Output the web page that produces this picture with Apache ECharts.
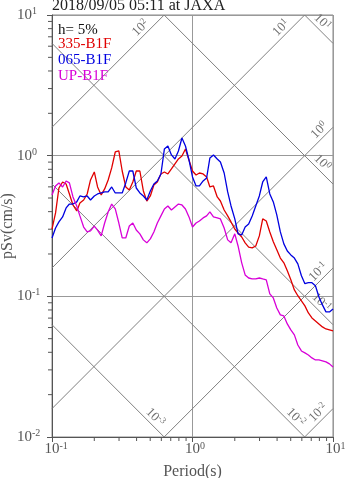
<!DOCTYPE html>
<html><head><meta charset="utf-8">
<script src="https://cdn.jsdelivr.net/npm/echarts@6/dist/echarts.min.js"></script>
<style>html,body{margin:0;padding:0;background:#fff}#c{width:347px;height:478px}</style>
</head><body><div id="c"></div>
<script>
// Periods (s)
const periods = [0.1,0.106,0.112,0.119,0.126,0.133,0.141,0.150,0.158,0.168,0.178,0.188,0.2,0.211,0.224,0.237,0.251,0.266,0.282,0.299,0.316,0.335,0.355,0.376,0.398,0.422,0.447,0.473,0.501,0.531,0.562,0.596,0.631,0.668,0.708,0.750,0.794,0.841,0.891,0.944,1.0,1.06,1.12,1.19,1.26,1.33,1.41,1.50,1.58,1.68,1.78,1.88,2.0,2.11,2.24,2.37,2.51,2.66,2.82,2.99,3.16,3.35,3.55,3.76,3.98,4.22,4.47,4.73,5.01,5.31,5.62,5.96,6.31,6.68,7.08,7.50,7.94,8.41,8.91,9.44,10.0];
// pSv (cm/s)
const sv335 = [0.301,0.392,0.589,0.650,0.629,0.534,0.446,0.405,0.461,0.484,0.534,0.672,0.766,0.599,0.526,0.580,0.672,0.818,1.062,1.080,0.778,0.599,0.571,0.650,0.778,0.778,0.561,0.476,0.517,0.619,0.650,0.741,0.766,0.741,0.804,0.873,0.947,0.995,1.116,0.932,0.778,0.729,0.753,0.741,0.706,0.599,0.609,0.509,0.476,0.411,0.373,0.338,0.301,0.282,0.264,0.240,0.224,0.221,0.228,0.269,0.355,0.343,0.287,0.244,0.214,0.187,0.173,0.152,0.131,0.111,0.101,0.0928,0.0855,0.0762,0.0702,0.0669,0.0637,0.0606,0.0586,0.0577,0.0568];
const sv065 = [0.260,0.306,0.338,0.367,0.425,0.453,0.453,0.469,0.517,0.509,0.517,0.484,0.517,0.534,0.543,0.552,0.552,0.599,0.543,0.543,0.543,0.640,0.778,0.778,0.589,0.543,0.517,0.484,0.561,0.629,0.661,0.741,1.116,1.172,1.012,0.947,1.080,1.336,1.172,0.932,0.706,0.609,0.609,0.661,0.694,0.963,1.012,0.947,0.902,0.753,0.552,0.439,0.355,0.278,0.273,0.311,0.327,0.373,0.439,0.517,0.650,0.706,0.534,0.469,0.379,0.287,0.236,0.210,0.197,0.187,0.170,0.140,0.123,0.125,0.125,0.119,0.0990,0.0869,0.0775,0.0775,0.0813];
const svUP = [0.526,0.609,0.640,0.599,0.661,0.640,0.509,0.439,0.373,0.311,0.287,0.292,0.316,0.296,0.269,0.332,0.398,0.453,0.418,0.332,0.260,0.260,0.316,0.332,0.296,0.278,0.252,0.240,0.256,0.287,0.332,0.373,0.418,0.439,0.411,0.432,0.453,0.446,0.418,0.367,0.311,0.332,0.343,0.361,0.373,0.398,0.367,0.361,0.355,0.306,0.252,0.240,0.278,0.228,0.173,0.142,0.135,0.133,0.133,0.135,0.133,0.131,0.104,0.0974,0.0827,0.0738,0.0726,0.0637,0.0577,0.0532,0.0451,0.0409,0.0396,0.0383,0.0365,0.0353,0.0353,0.0348,0.0342,0.0331,0.0315];
const seriesNames = ['335-B1F','065-B1F','UP-B1F'];
const seriesColors = ['#e00000','#0000e0','#d800d8'];
// Tripartite guide lines
const dispLines = [0.001,0.01,0.1,1,10];   // displacement (cm)
const accLines = [0.01,0.1,1,10,100];      // acceleration (cm/s^2)
const minorMult = [2,3,4,5,6,7,8,9];
const xDecades = [0.1,1];
const yDecades = [0.01,0.1,1];
const titleText = '2018/09/05 05:11 at JAXA';
const dampText = 'h= 5%';

const FF = '"Liberation Serif","Times New Roman",serif';
const TP = 2*Math.PI;
const Xmin=0.1, Xmax=10, Ymin=0.01, Ymax=10;

function expOf(v){return Math.round(Math.log10(v));}

const guideSeries = [];
dispLines.forEach(D=>{
  const t1 = Math.max(Xmin, TP*D/Ymax), t2 = Math.min(Xmax, TP*D/Ymin);
  guideSeries.push({type:'line', silent:true, symbol:'none', data:[[t1,TP*D/t1],[t2,TP*D/t2]],
    lineStyle:{color:'#808080', width:1}, z:1, animation:false});
});
accLines.forEach(A=>{
  const t1 = Math.max(Xmin, TP*Ymin/A), t2 = Math.min(Xmax, TP*Ymax/A);
  guideSeries.push({type:'line', silent:true, symbol:'none', data:[[t1,A*t1/TP],[t2,A*t2/TP]],
    lineStyle:{color:'#808080', width:1}, z:1, animation:false});
});
const labelData = [];
accLines.forEach(A=>{ const t=Math.min(Xmax, TP*Ymax/A); labelData.push([t, A*t/TP, expOf(A), 0]); });
dispLines.forEach(D=>{ const t=Math.min(Xmax, TP*D/Ymin); labelData.push([t, TP*D/t, expOf(D), 1]); });

const supRich = {
  b:{fontSize:13, fontFamily:FF, fill:'#707070', lineHeight:15},
  s:{fontSize:9, fontFamily:FF, fill:'#707070', verticalAlign:'top', lineHeight:10}
};
function diagLabel(params, api){
  const p = api.coord([api.value(0), api.value(1)]);
  const e = api.value(2), kind = api.value(3);
  const cs = params.coordSys, s = Math.SQRT1_2;
  let ax, ay, rot;
  if (kind === 0){
    const L = (p[1] <= cs.y + 1) ? 17 : 3;
    ax = p[0]-L*s; ay = p[1]+L*s; rot = Math.PI/4;
  } else {
    const L = (p[0] >= cs.x + cs.width - 1) ? 14 : 10;
    ax = p[0]-L*s; ay = p[1]-L*s; rot = -Math.PI/4;
  }
  return {type:'text', x:ax, y:ay, rotation:rot,
    style:{text:'{b|10}{s|'+e+'}', rich:supRich, align:'right', verticalAlign:'bottom', fill:'#707070'}};
}

const yMinor = []; yDecades.forEach(d=>minorMult.forEach(m=>yMinor.push([Xmin, d*m])));
const xMinor = []; xDecades.forEach(d=>minorMult.forEach(m=>xMinor.push([d*m, Ymin])));

function minorTick(dir){
  return function(params, api){
    const p = api.coord([api.value(0), api.value(1)]);
    const shape = dir==='y' ? {x1:p[0]-4, y1:p[1], x2:p[0], y2:p[1]} : {x1:p[0], y1:p[1], x2:p[0], y2:p[1]+4};
    return {type:'line', shape, style:{stroke:'#555', lineWidth:1}};
  };
}

const axisRich = {
  b:{fontSize:15, fontFamily:FF, color:'#555', lineHeight:17},
  s:{fontSize:10, fontFamily:FF, color:'#555', verticalAlign:'top', lineHeight:11},
  h:{fontSize:10, fontFamily:FF, color:'rgba(0,0,0,0)', verticalAlign:'top', lineHeight:11}
};

const chart = echarts.init(document.getElementById('c'), null, {renderer:'canvas'});
chart.setOption({
  animation:false,
  backgroundColor:'#fff',
  title:{text:titleText, left:52, top:-2, padding:0, textStyle:{fontFamily:FF, fontSize:16, fontWeight:'normal', color:'#222'}},
  legend:{orient:'vertical', left:53, top:37, icon:'none', itemWidth:0, itemHeight:14, itemGap:1, padding:0,
    selectedMode:false,
    data:seriesNames.map((n,i)=>({name:n, textStyle:{color:seriesColors[i]}})),
    textStyle:{fontFamily:FF, fontSize:15}},
  graphic:[{type:'text', left:58, top:23, style:{text:dampText, font:'15px '+FF, fill:'#111'}}],
  grid:{left:52, right:14, top:15, bottom:41, show:true, borderColor:'#888', borderWidth:1, outerBoundsMode:'none', containLabel:false},
  xAxis:{type:'log', logBase:10, min:Xmin, max:Xmax, splitNumber:2,
    name:'Period(s)', nameLocation:'middle', nameGap:27, nameMoveOverlap:false, nameTextStyle:{fontFamily:FF, fontSize:16, color:'#555'},
    axisLine:{show:true, lineStyle:{color:'#555'}}, axisTick:{show:true, inside:false, length:5, lineStyle:{color:'#555'}},
    axisLabel:{margin:4, formatter:v=>{const e=expOf(v);return '{h|'+e+'}{b|10}{s|'+e+'}';}, rich:axisRich},
    splitLine:{show:true, lineStyle:{color:'#999', width:1}}},
  yAxis:{type:'log', logBase:10, min:Ymin, max:Ymax, splitNumber:3,
    name:'pSv(cm/s)', nameLocation:'middle', nameGap:36, nameMoveOverlap:false, nameTextStyle:{fontFamily:FF, fontSize:16, color:'#555'},
    axisLine:{show:true, lineStyle:{color:'#555'}}, axisTick:{show:true, inside:false, length:5, lineStyle:{color:'#555'}},
    axisLabel:{margin:35, align:'left', formatter:v=>'{b|10}{s|'+expOf(v)+'}', rich:axisRich},
    splitLine:{show:true, lineStyle:{color:'#999', width:1}}},
  series: guideSeries.concat([
    {type:'custom', renderItem:diagLabel, data:labelData, silent:true, z:2, clip:false},
    {type:'custom', renderItem:minorTick('y'), data:yMinor, silent:true, z:2, clip:false},
    {type:'custom', renderItem:minorTick('x'), data:xMinor, silent:true, z:2, clip:false},
    {name:seriesNames[0], type:'line', showSymbol:false, symbol:'none', data:periods.map((t,i)=>[t,sv335[i]]), lineStyle:{color:seriesColors[0], width:1.3}, itemStyle:{color:seriesColors[0]}, z:5},
    {name:seriesNames[1], type:'line', showSymbol:false, symbol:'none', data:periods.map((t,i)=>[t,sv065[i]]), lineStyle:{color:seriesColors[1], width:1.3}, itemStyle:{color:seriesColors[1]}, z:5},
    {name:seriesNames[2], type:'line', showSymbol:false, symbol:'none', data:periods.map((t,i)=>[t,svUP[i]]), lineStyle:{color:seriesColors[2], width:1.3}, itemStyle:{color:seriesColors[2]}, z:5}
  ])
});
</script></body></html>
